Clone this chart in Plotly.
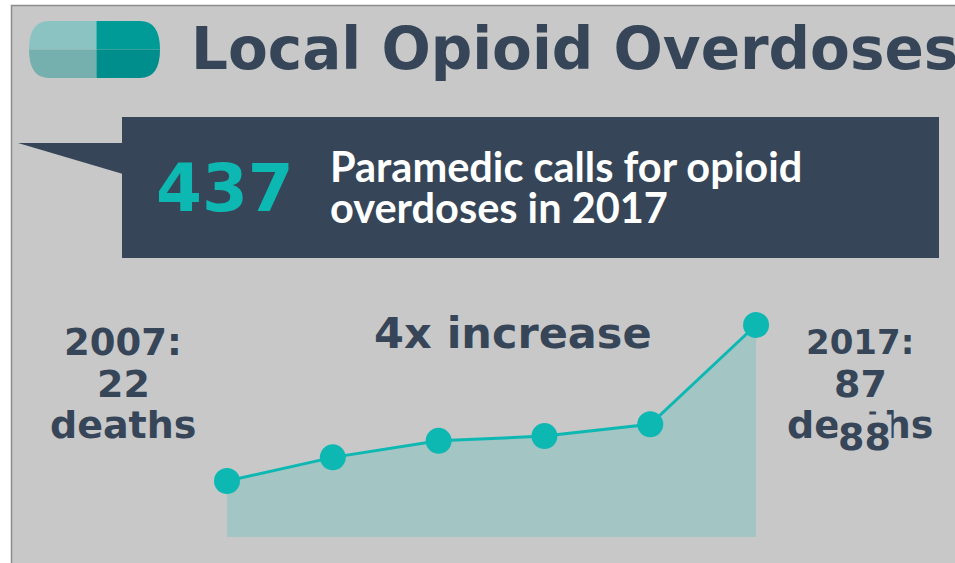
import plotly.graph_objects as go

W, H = 955, 563

# Opioid overdose deaths by year
years = [2007, 2009, 2011, 2013, 2015, 2017]
deaths = [22, 32, 39, 41, 46, 88]
area_floor = [-1.7, -1.7, -1.7, -1.7, -1.7, -1.7]

title_text = "Local Opioid Overdoses"
calls_value = "437"
calls_lines = ["Paramedic calls for opioid", "overdoses in 2017"]
change_text = "4x increase"
start_lines = ["2007:", "22", "deaths"]
end_lines = ["2017:", "87", "deaths"]
end_line_sizes = [34, 38, 38]
end_value = "88"

PANEL = "#c8c8c8"
NAVY = "#364658"
TEAL = "#0db8b3"
AREA = "#a3c5c3"
HEAD_FONT = "DejaVu Sans"
BODY_FONT = "Lato"


def px(x):
    return x / W


def py(y):
    return 1 - y / H


def region(x0, y0, x1, y1, color, **kw):
    return dict(type="rect", xref="paper", yref="paper", x0=px(x0), x1=px(x1),
                y0=py(y1), y1=py(y0), fillcolor=color, layer="below",
                line=kw.get("line", dict(width=0)))


def outline(points, color):
    # points are (command, x, y, ...) tuples in page pixels
    parts = []
    for p in points:
        vals = p[1:]
        pairs = [f"{px(vals[i])},{py(vals[i + 1])}" for i in range(0, len(vals), 2)]
        parts.append(p[0] + " " + " ".join(pairs))
    return dict(type="path", xref="paper", yref="paper", path=" ".join(parts) + " Z",
                fillcolor=color, line=dict(width=0), layer="below")


def label(text, cx, cy, size, color=NAVY, family=HEAD_FONT, anchor="center", **kw):
    return dict(text=text, xref="paper", yref="paper", x=px(cx), y=py(cy),
                xanchor=anchor, yanchor="middle", showarrow=False,
                font=dict(family=family, size=size, color=color, weight=kw.pop("weight", 700)),
                **kw)


shapes = [
    region(11.5, 5.5, 960, 570, PANEL, line=dict(color="#8c8c8c", width=1.5)),
    # capsule icon, four tinted quarters
    outline([("M", 96.5, 21), ("L", 96.5, 49.5), ("L", 29, 49.5), ("Q", 29, 21, 49, 21)], "#8bc3c2"),
    outline([("M", 96.5, 49.5), ("L", 96.5, 78), ("L", 49, 78), ("Q", 29, 78, 29, 49.5)], "#76b0ae"),
    outline([("M", 96.5, 21), ("L", 140, 21), ("Q", 160, 21, 160, 49.5), ("L", 96.5, 49.5)], "#009b97"),
    outline([("M", 96.5, 49.5), ("L", 160, 49.5), ("Q", 160, 78, 140, 78), ("L", 96.5, 78)], "#008e8c"),
    # speech-bubble banner
    region(122, 117, 939, 258, NAVY),
    outline([("M", 18, 143), ("L", 123, 143), ("L", 123, 174)], NAVY),
]

annotations = [
    label(title_text, 189, 49, 58, anchor="left"),
    label(calls_value, 225, 189, 66, color=TEAL),
    label(calls_lines[0], 328, 166, 41.5, color="white", family=BODY_FONT, anchor="left"),
    label(calls_lines[1], 328, 207, 41.5, color="white", family=BODY_FONT, anchor="left"),
    label(change_text, 513, 333, 43),
]
for line, cy in zip(start_lines, [342, 384, 425]):
    annotations.append(label(line, 123, cy, 37 if line.endswith(":") else 38))
for line, cy, size in zip(end_lines, [342, 384, 425], end_line_sizes):
    annotations.append(label(line, 860, cy, size))
annotations.append(label(end_value, 864, 437, 38, bgcolor=PANEL, borderpad=0))

fig = go.Figure()
fig.add_trace(go.Scatter(x=years, y=area_floor, mode="lines", line=dict(width=0),
                         hoverinfo="skip", showlegend=False))
fig.add_trace(go.Scatter(x=years, y=deaths, mode="lines+markers", fill="tonexty",
                         fillcolor=AREA, line=dict(color=TEAL, width=3),
                         marker=dict(color=TEAL, size=26), showlegend=False, cliponaxis=False))

fig.update_layout(
    width=W, height=H, margin=dict(l=0, r=0, t=0, b=0),
    paper_bgcolor="white", plot_bgcolor="rgba(0,0,0,0)",
    xaxis=dict(visible=False, range=[2002.71, 2020.76]),
    yaxis=dict(visible=False, range=[-12.69, 225.5]),
    shapes=shapes, annotations=annotations,
)

fig.write_html("out.html")
